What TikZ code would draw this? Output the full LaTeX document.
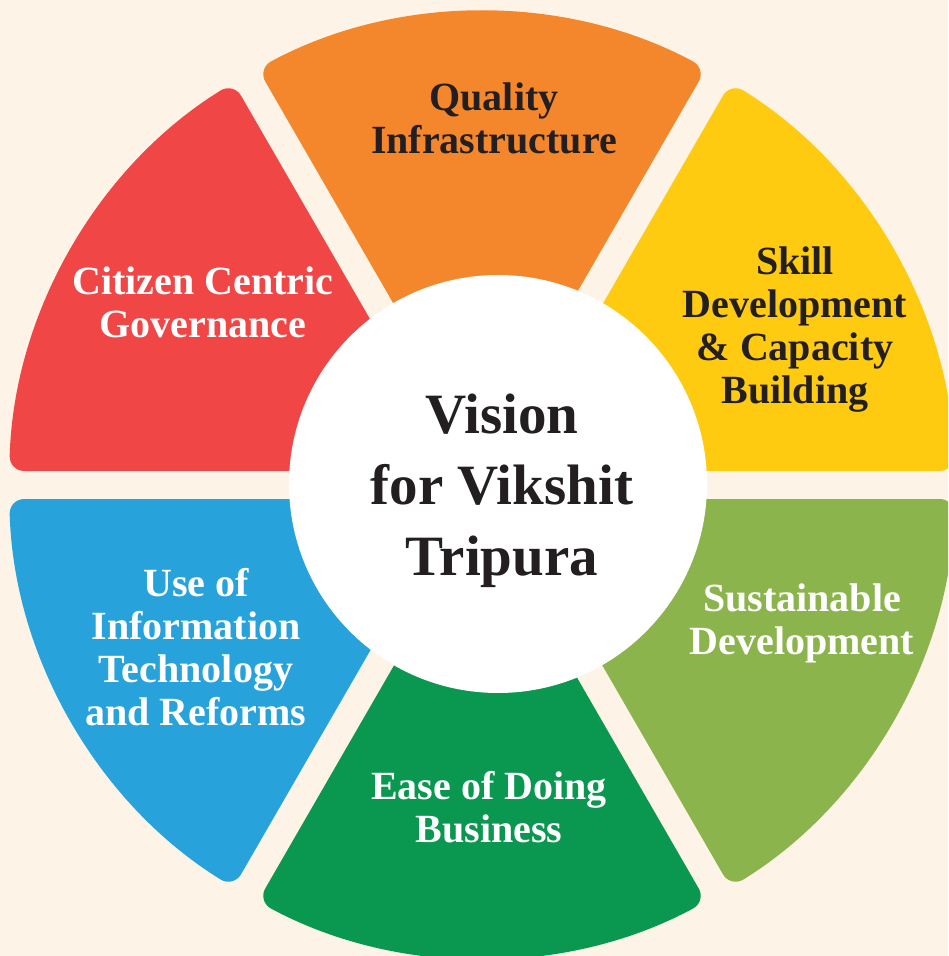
\documentclass[tikz,border=0pt]{standalone}
\usepackage{fontspec}
\setmainfont{Liberation Serif}

\definecolor{cream}{HTML}{FDF3E7}
\definecolor{ink}{HTML}{231F20}
\definecolor{sunyellow}{HTML}{FECB10}
\definecolor{infraorange}{HTML}{F4872C}
\definecolor{citizenred}{HTML}{F04646}
\definecolor{itblue}{HTML}{28A2DA}
\definecolor{easegreen}{HTML}{0A974F}
\definecolor{sustgreen}{HTML}{8BB44C}

\begin{document}
\begin{tikzpicture}[x=1pt,y=1pt,
	sector/.style={rounded corners=15pt},
	label node/.style={align=center,inner sep=0pt,font=\bfseries\fontsize{40}{43}\selectfont},
	hub node/.style={circle,fill=white,minimum size=418pt,inner sep=0pt},
	title node/.style={align=center,inner sep=0pt,text=ink,font=\bfseries\fontsize{57}{71}\selectfont}
]

	\def \R {473};
	\def \d {28};
	\def \e {1.7};

	\fill[cream] (0,0) rectangle (948,956);
	\useasboundingbox (0,0) rectangle (948,956);
	\clip (0,0) rectangle (948,956);

	% six sectors with strips left between them
	\begin{scope}[shift={(482,471)}]
		\foreach \a/\c in {0/sunyellow,60/infraorange,120/citizenred,180/itblue,240/easegreen,300/sustgreen} {
			\fill[sector,fill=\c] ({\a+30}:\d) -- ({\a+\e}:\R) arc[start angle={\a+\e},end angle={\a+60-\e},radius=\R] -- cycle;
		}
	\end{scope}

	\node[label node,text=white] (citizen) at (203,654) {Citizen Centric\\Governance};
	\node[label node,text=ink] (quality) at (494,838) {Quality\\Infrastructure};
	\node[label node,text=ink] (skill) at (795,626) {Skill\\Development\\\& Capacity\\Building};
	\node[label node,text=white] (itreforms) at (196,309) {Use of\\Information\\Technology\\and Reforms};
	\node[label node,text=white] (ease) at (489,149) {Ease of Doing\\Business};
	\node[label node,text=white] (sustain) at (802,333) {Sustainable\\Development};

	\node[hub node] (hub) at (498,472) {};
	\node[title node] (vision) at (502,465) {Vision\\for Vikshit\\Tripura};
\end{tikzpicture}
\end{document}
